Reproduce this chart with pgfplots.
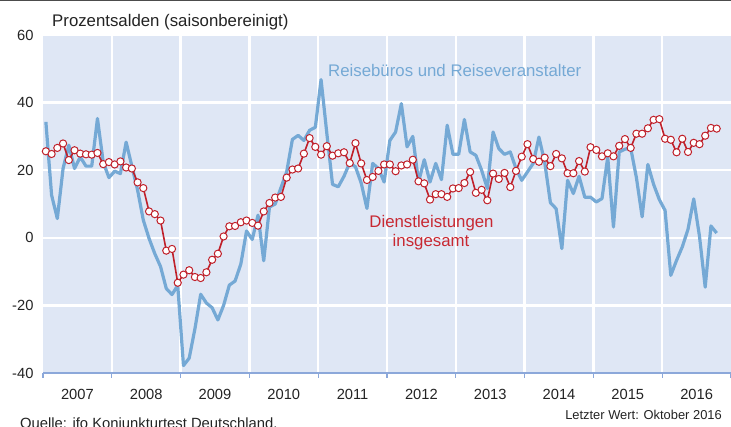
\documentclass[border=0pt]{standalone}
\usepackage{fontspec}
\setmainfont{Liberation Sans}
\usepackage{pgfplots}
\pgfplotsset{compat=1.18}
\usepackage{pgfplotstable}
\definecolor{bg}{RGB}{223,231,245}
\definecolor{lblue}{RGB}{117,169,213}
\definecolor{dred}{RGB}{192,32,42}
\definecolor{axblue}{RGB}{140,168,218}
\definecolor{txt}{RGB}{35,35,35}
\definecolor{redtxt}{RGB}{200,40,50}

\pgfplotstableread{
m r b
1 25.6 34.3
2 24.8 12.6
3 26.6 5.7
4 27.9 20.5
5 23.0 27.4
6 25.9 20.5
7 24.9 23.9
8 24.7 21.2
9 24.6 21.2
10 25.1 35.3
11 21.8 22.4
12 22.4 17.8
13 21.7 19.7
14 22.6 19.0
15 20.8 28.3
16 20.5 21.2
17 16.4 14.1
18 14.7 5.2
19 7.8 -0.2
20 7.0 -4.7
21 5.1 -8.5
22 -3.8 -15.0
23 -3.3 -16.8
24 -13.3 -14.1
25 -10.9 -37.8
26 -9.6 -35.6
27 -11.6 -26.9
28 -11.9 -16.7
29 -10.2 -19.3
30 -6.5 -20.7
31 -4.7 -24.3
32 0.4 -20.0
33 3.4 -14.0
34 3.5 -12.8
35 4.6 -7.8
36 5.1 2.0
37 4.4 -0.5
38 3.6 6.7
39 7.8 -6.8
40 10.3 9.1
41 11.9 10.0
42 12.1 14.8
43 17.8 19.5
44 20.2 29.1
45 20.5 30.3
46 24.9 28.8
47 29.5 31.8
48 26.9 32.7
49 24.6 46.8
50 27.1 31.0
51 24.3 15.8
52 25.0 15.1
53 25.3 18.2
54 22.1 22.2
55 28.0 21.0
56 22.0 16.2
57 17.1 8.7
58 18.0 22.0
59 19.8 20.5
60 21.7 16.5
61 21.7 28.8
62 19.7 31.3
63 21.4 39.7
64 21.7 26.9
65 23.1 30.0
66 16.7 16.5
67 16.1 23.1
68 11.3 16.5
69 12.9 22.0
70 12.9 17.2
71 12.1 33.3
72 14.6 24.7
73 14.7 24.7
74 16.2 35.0
75 19.5 25.4
76 13.3 24.4
77 14.2 20.0
78 11.1 14.6
79 19.0 31.3
80 17.4 26.4
81 19.2 24.7
82 15.0 25.4
83 19.8 20.5
84 24.0 17.0
85 27.7 19.5
86 23.3 22.0
87 22.5 29.8
88 23.7 22.4
89 21.2 10.4
90 24.8 8.6
91 23.5 -3.2
92 19.1 17.0
93 19.1 13.1
94 22.7 18.2
95 19.6 12.0
96 26.8 12.0
97 26.0 10.6
98 24.1 11.6
99 25.0 23.9
100 24.1 3.2
101 27.2 25.4
102 29.2 26.2
103 26.6 26.6
104 30.8 17.8
105 30.8 6.2
106 32.4 21.7
107 34.9 15.8
108 35.1 11.3
109 29.3 8.1
110 29.0 -11.1
111 25.3 -6.7
112 29.3 -2.7
113 25.4 2.5
114 28.1 11.5
115 27.7 0.5
116 30.2 -14.6
117 32.5 3.5
118 32.3 1.4
}\data

\begin{document}
\begin{tikzpicture}
\begin{axis}[
  at={(43pt,54pt)}, anchor=south west,
  scale only axis, width=688pt, height=338pt,
  xmin=0, xmax=120, ymin=-40, ymax=60,
  axis background/.style={fill=bg},
  axis x line*=bottom, axis y line*=left,
  x axis line style={draw=axblue, line width=1.5pt, -},
  y axis line style={draw=none},
  xtick={6,18,...,114},
  xticklabels={2007,2008,2009,2010,2011,2012,2013,2014,2015,2016},
  minor xtick={12,24,...,108},
  extra x ticks={0,120},
  extra x tick labels={},
  extra x tick style={grid=none, major tick length=5pt, tick style={draw=axblue, line width=1.2pt}},
  ytick={-40,-20,0,20,40,60},
  yticklabels={-40,-20,0,20,40,60},
  tick align=outside,
  major tick length=0pt,
  minor tick length=5pt,
  minor x tick style={draw=axblue, line width=1.2pt},
  xmajorgrids=false, xminorgrids=true, ymajorgrids=true,
  grid style={white, line width=2.5pt},
  minor grid style={white, line width=2.5pt},
  xticklabel style={font=\fontsize{14.7}{17}\selectfont, text=txt, anchor=north, yshift=-13pt},
  yticklabel style={font=\fontsize{14.7}{17}\selectfont, text=txt, xshift=-6pt},
  clip=false,
]
\addplot[lblue, line width=3.2pt, line join=round] table[x expr=\thisrow{m}-0.5, y=b] {\data};
\addplot[dred, line width=1.6pt, mark=*, mark size=3.6pt, mark options={fill=white, draw=dred, line width=1pt}] table[x expr=\thisrow{m}-0.5, y=r] {\data};
\end{axis}
\node[anchor=base west, text=txt, font=\fontsize{16.8}{19}\selectfont, inner sep=0] at (52pt,400.3pt) {Prozentsalden (saisonbereinigt)};
\node[anchor=base west, text=lblue, font=\fontsize{16.8}{19}\selectfont, inner sep=0] at (328pt,350.3pt) {Reisebüros und Reiseveranstalter};
\node[anchor=base, text=redtxt, font=\fontsize{16.8}{19}\selectfont, inner sep=0] at (431.5pt,199pt) {Dienstleistungen};
\node[anchor=base, text=redtxt, font=\fontsize{16.8}{19}\selectfont, inner sep=0] at (431pt,180.3pt) {insgesamt};
\node[anchor=base west, text=txt, font=\fontsize{14.8}{17}\selectfont, inner sep=0] at (20pt,-1.5pt) {Quelle: ifo Konjunkturtest Deutschland.};
\node[anchor=base east, text=txt, font=\fontsize{12.9}{15}\selectfont, inner sep=0] at (722pt,7pt) {Letzter Wert: Oktober 2016};
\draw[line width=1.3pt, draw=black!70] (0pt,426.4pt) -- (731pt,426.4pt);
\pgfresetboundingbox
\useasboundingbox (0pt,0pt) rectangle (731pt,427pt);
\end{tikzpicture}
\end{document}
